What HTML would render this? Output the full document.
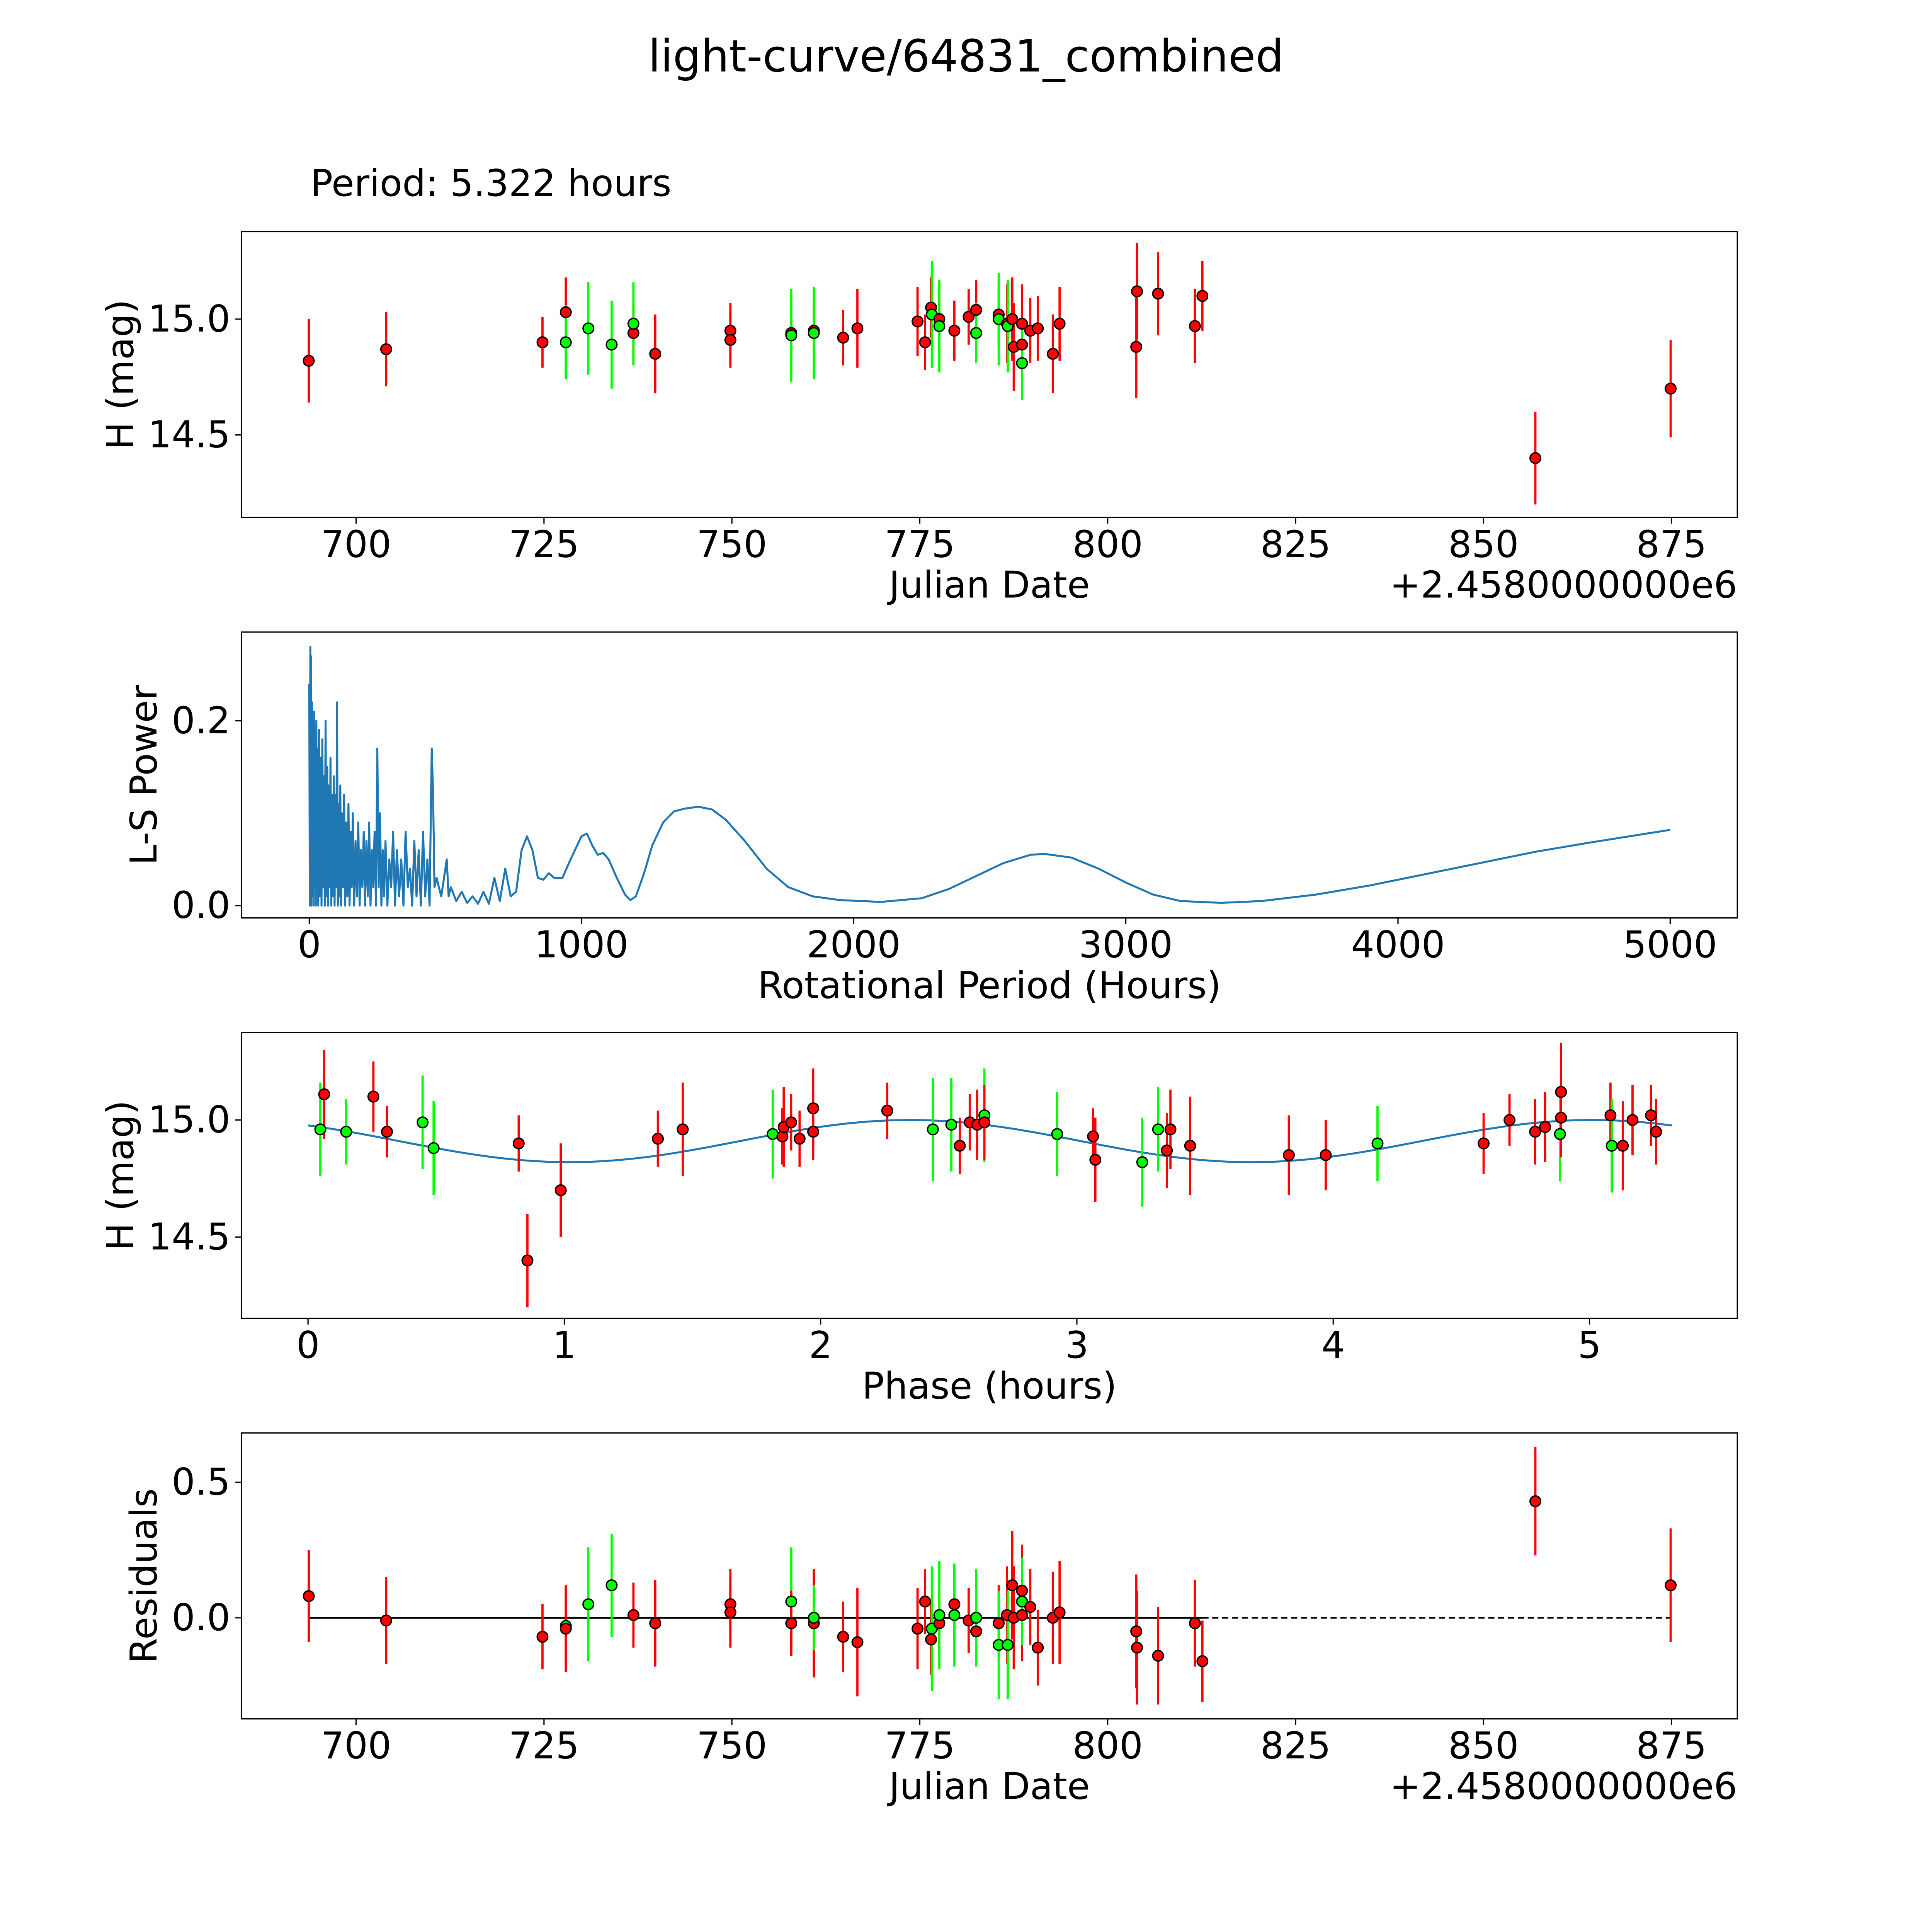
<!DOCTYPE html>
<html><head><meta charset="utf-8"><style>
html,body{margin:0;padding:0;background:#fff;overflow:hidden;width:100vw;height:100vh}
svg{display:block;width:100vw;height:100vh}
text{font-family:"DejaVu Sans","Liberation Sans",sans-serif;fill:#000}
</style></head><body>
<svg id="fig" viewBox="0 0 1568 1568" preserveAspectRatio="none" xmlns="http://www.w3.org/2000/svg">
<rect width="1568" height="1568" fill="#fff"/>
<text x="784" y="58" font-size="36" text-anchor="middle">light-curve/64831_combined</text>
<text x="252" y="159" font-size="30">Period: 5.322 hours</text>
<g id="p1"></g>
<g id="p2"></g>
<g id="p3"></g>
<g id="p4"></g>
</svg>
<script>
// ---- Panel 1: light curve (JD offset, H mag, error, filter) ----
const lcJD  = [693.7,704.0,724.8,727.9,727.9,730.9,734.0,736.9,736.9,739.8,749.8,749.8,757.9,757.9,760.9,760.9,764.8,766.7,774.7,775.7,776.5,776.6,777.6,777.6,779.6,781.5,782.5,782.5,785.5,785.5,786.6,786.7,787.3,787.5,788.6,788.6,788.6,789.7,790.7,792.7,793.6,803.8,803.9,806.7,811.6,812.6,856.9,874.9];
const lcMag = [14.82,14.87,14.90,15.03,14.90,14.96,14.89,14.94,14.98,14.85,14.95,14.91,14.94,14.93,14.95,14.94,14.92,14.96,14.99,14.90,15.05,15.02,15.00,14.97,14.95,15.01,15.04,14.94,15.02,15.00,14.98,14.97,15.00,14.88,14.98,14.89,14.81,14.95,14.96,14.85,14.98,14.88,15.12,15.11,14.97,15.10,14.40,14.70];
const lcErr = [0.18,0.16,0.11,0.15,0.16,0.20,0.19,0.12,0.18,0.17,0.12,0.12,0.12,0.20,0.12,0.20,0.12,0.17,0.15,0.12,0.13,0.23,0.12,0.20,0.13,0.12,0.13,0.13,0.14,0.20,0.17,0.20,0.18,0.19,0.17,0.17,0.16,0.14,0.14,0.17,0.16,0.22,0.21,0.18,0.16,0.15,0.20,0.21];
const lcFilt= ['r','r','r','r','g','g','g','r','g','r','r','r','r','g','r','g','r','r','r','r','r','g','r','g','r','r','r','g','r','g','r','g','r','r','r','r','g','r','r','r','r','r','r','r','r','r','r','r'];
// ---- Panel 2: periodogram ----
const lsPeriod = [0,2,4,5,6,8,10,12,14,16,18,20,22,24,26,28,30,33,36,39,42,45,48,51,54,57,60,63,66,69,72,75,78,81,84,87,90,93,96,99,102,105,108,111,114,117,120,124,128,132,136,140,144,148,152,156,160,165,170,175,180,185,190,195,200,205,210,215,220,225,230,235,240,245,250,255,260,265,270,275,280,287,294,301,308,315,322,330,338,346,354,362,370,378,386,394,402,410,418,426,434,442,450,455,460,468,476,485,495,505,512,520,540,560,580,600,620,640,660,680,700,720,740,760,780,800,820,840,860,880,900,930,960,1000,1020,1040,1060,1080,1100,1130,1160,1180,1200,1230,1260,1300,1340,1380,1430,1480,1530,1600,1680,1760,1850,1950,2100,2250,2350,2450,2550,2650,2700,2800,2900,3000,3100,3200,3350,3500,3700,3900,4100,4300,4500,4700,5000];
const lsPower  = [0.24,0.0,0.28,0.02,0.27,0.0,0.22,0.01,0.20,0.0,0.21,0.02,0.18,0.0,0.20,0.03,0.17,0.0,0.19,0.01,0.16,0.0,0.18,0.02,0.14,0.0,0.20,0.01,0.15,0.0,0.13,0.02,0.16,0.0,0.12,0.01,0.14,0.0,0.12,0.02,0.22,0.0,0.11,0.01,0.13,0.0,0.10,0.02,0.12,0.0,0.09,0.01,0.11,0.0,0.08,0.02,0.10,0.0,0.07,0.01,0.09,0.0,0.06,0.02,0.08,0.0,0.07,0.01,0.09,0.0,0.06,0.02,0.08,0.0,0.17,0.02,0.10,0.0,0.06,0.01,0.07,0.0,0.05,0.02,0.08,0.0,0.06,0.01,0.05,0.0,0.08,0.02,0.04,0.0,0.07,0.01,0.06,0.0,0.08,0.01,0.05,0.0,0.17,0.12,0.02,0.03,0.02,0.01,0.03,0.05,0.01,0.02,0.005,0.015,0.003,0.01,0.002,0.015,0.002,0.03,0.005,0.04,0.01,0.015,0.06,0.075,0.06,0.03,0.028,0.035,0.03,0.03,0.05,0.075,0.078,0.065,0.055,0.057,0.05,0.03,0.012,0.006,0.01,0.035,0.065,0.09,0.102,0.105,0.107,0.104,0.093,0.07,0.04,0.02,0.01,0.006,0.004,0.008,0.018,0.032,0.046,0.055,0.056,0.052,0.04,0.025,0.012,0.005,0.003,0.005,0.012,0.022,0.034,0.046,0.058,0.068,0.082];
// ---- Panel 3: phase-folded ----
const phPhase = [0.063,0.048,0.149,0.255,0.308,0.447,0.490,0.822,0.856,0.986,1.365,1.462,1.813,1.851,1.856,1.885,1.918,1.971,1.971,2.260,2.438,2.510,2.543,2.582,2.611,2.639,2.639,2.923,3.063,3.072,3.255,3.317,3.351,3.365,3.442,3.827,3.971,4.173,4.587,4.688,4.788,4.827,4.885,4.889,4.889,5.082,5.087,5.130,5.168,5.240,5.260];
const phMag   = [15.11,14.96,14.95,15.10,14.95,14.99,14.88,14.90,14.40,14.70,14.92,14.96,14.94,14.93,14.97,14.99,14.92,14.95,15.05,15.04,14.96,14.98,14.89,14.99,14.98,15.02,14.99,14.94,14.93,14.83,14.82,14.96,14.87,14.96,14.89,14.85,14.85,14.90,14.90,15.00,14.95,14.97,14.94,15.01,15.12,15.02,14.89,14.89,15.00,15.02,14.95];
const phErr   = [0.19,0.20,0.14,0.15,0.11,0.20,0.20,0.12,0.20,0.20,0.12,0.20,0.19,0.12,0.17,0.12,0.12,0.12,0.17,0.12,0.22,0.20,0.12,0.12,0.15,0.20,0.16,0.18,0.12,0.18,0.19,0.18,0.16,0.17,0.21,0.17,0.15,0.16,0.13,0.11,0.14,0.15,0.20,0.17,0.21,0.14,0.20,0.19,0.15,0.13,0.14];
const phFilt  = ['r','g','g','r','r','g','g','r','r','r','r','r','g','r','r','r','r','r','r','r','g','g','r','r','r','g','r','g','r','r','g','g','r','r','r','r','r','g','r','r','r','r','g','r','r','r','g','r','r','r','r'];
const fitMean = 14.91, fitAmp = 0.09, fitPeak = 2.35, fitPer = 2.66, fitEnd = 5.322;
// ---- Panel 4: residuals ----
const rsJD  = [693.7,704.0,724.8,727.9,727.9,730.9,734.0,736.9,739.8,749.8,749.8,757.9,757.9,760.9,760.9,764.8,766.7,774.7,775.7,776.5,776.6,777.6,777.6,779.6,779.6,781.5,782.5,782.5,785.5,785.5,786.6,786.7,787.3,787.5,788.6,788.6,788.6,789.7,790.7,792.7,793.6,803.8,803.9,806.7,811.6,812.6,856.9,874.9];
const rsVal = [0.08,-0.01,-0.07,-0.03,-0.04,0.05,0.12,0.01,-0.02,0.05,0.02,0.06,-0.02,-0.02,0.0,-0.07,-0.09,-0.04,0.06,-0.08,-0.04,-0.02,0.01,0.05,0.01,-0.01,-0.05,0.0,-0.02,-0.10,0.01,-0.10,0.12,0.0,0.10,0.01,0.06,0.04,-0.11,0.0,0.02,-0.05,-0.11,-0.14,-0.02,-0.16,0.43,0.12];
const rsErr = [0.17,0.16,0.12,0.15,0.16,0.21,0.19,0.12,0.16,0.13,0.13,0.20,0.12,0.20,0.12,0.13,0.20,0.15,0.12,0.13,0.23,0.12,0.20,0.13,0.19,0.12,0.13,0.18,0.14,0.20,0.18,0.20,0.20,0.19,0.17,0.17,0.16,0.14,0.14,0.17,0.19,0.21,0.21,0.18,0.16,0.15,0.20,0.21];
const rsFilt= ['r','r','r','g','r','g','g','r','r','r','r','g','r','r','g','r','r','r','r','r','g','r','g','r','g','r','r','g','r','g','r','g','r','r','r','r','g','r','r','r','r','r','r','r','r','r','r','r'];
const rsSolidEnd = 812.6, rsDashEnd = 874.9;

const NS='http://www.w3.org/2000/svg';
function mk(parent,tag,attrs){const e=document.createElementNS(NS,tag);for(const k in attrs)e.setAttribute(k,attrs[k]);parent.appendChild(e);return e;}
const L=196,R=1410;
function frame(g,top,bot,xt,xf,yt,yf,xlabel,ylabel,offset){
  const fr=mk(g,'rect',{x:L,y:top,width:R-L,height:bot-top,fill:'none',stroke:'#000','stroke-width':1});
  
  
  xt.forEach(v=>{const x=xf(v);
    mk(g,'line',{x1:x,x2:x,y1:bot,y2:bot+5,stroke:'#000','stroke-width':1});
    const t=mk(g,'text',{x:x,y:bot+32,'font-size':30,'text-anchor':'middle'});t.textContent=v;
    
    });
  yt.forEach(v=>{const y=yf(v);
    mk(g,'line',{x1:L-5,x2:L,y1:y,y2:y,stroke:'#000','stroke-width':1});
    const t=mk(g,'text',{x:L-9,y:y+10,'font-size':30,'text-anchor':'end'});t.textContent=v.toFixed(1);
    
    });
  const xl=mk(g,'text',{x:803,y:bot+65,'font-size':30,'text-anchor':'middle'});xl.textContent=xlabel;
  
  
  const cy=(top+bot)/2;
  const yl=mk(g,'text',{x:0,y:0,'font-size':30,'text-anchor':'middle',transform:`translate(${ylabel.x},${cy}) rotate(-90)`});yl.textContent=ylabel.t;
  
  
  if(offset){const o=mk(g,'text',{x:R,y:bot+65,'font-size':30,'text-anchor':'end'});o.textContent=offset;
    
    }
}
function points(g,xs,ys,es,fs,xf,yf,ysc){
  const eg=mk(g,'g',{}),mg=mk(g,'g',{});
  for(let i=0;i<xs.length;i++){
    const c=fs[i]==='g'?'#00ff00':'#ff0000';
    const x=xf(xs[i]),y=yf(ys[i]),d=es[i]*ysc;
    const l=mk(eg,'line',{x1:x,x2:x,y1:y-d,y2:y+d,stroke:c,'stroke-width':1.8});
    
    
    const m=mk(mg,'circle',{cx:x,cy:y,r:4.3,fill:c,stroke:'#000','stroke-width':1.1});
    
    
  }
}
const jdx=d=>289+(d-700)*6.1;
// Panel 1
{const g=document.getElementById('p1');const top=188,bot=420;
 const yf=m=>259+(15-m)*188;
 frame(g,top,bot,[700,725,750,775,800,825,850,875],jdx,[15.0,14.5],yf,'Julian Date',{x:108,t:'H (mag)'},'+2.4580000000e6');
 points(g,lcJD,lcMag,lcErr,lcFilt,jdx,yf,188);}
// Panel 2
{const g=document.getElementById('p2');const top=513,bot=745;
 const xf=p=>251+p*0.2209, yf=v=>735-v*750;
 frame(g,top,bot,[0,1000,2000,3000,4000,5000],xf,[0.0,0.2],yf,'Rotational Period (Hours)',{x:127,t:'L-S Power'});
 let d='';lsPeriod.forEach((p,i)=>{d+=(i?'L':'M')+xf(p).toFixed(2)+','+yf(lsPower[i]).toFixed(2);});
 const pl=mk(g,'path',{d:d,fill:'none',stroke:'#1f77b4','stroke-width':1.6,'stroke-linejoin':'round'});
 
 }
// Panel 3
{const g=document.getElementById('p3');const top=838,bot=1070;
 const xf=p=>250+p*208, yf=m=>909+(15-m)*190;
 frame(g,top,bot,[0,1,2,3,4,5],xf,[15.0,14.5],yf,'Phase (hours)',{x:108,t:'H (mag)'});
 let d='';for(let i=0;i<=300;i++){const p=fitEnd*i/300;const m=fitMean+fitAmp*Math.cos(2*Math.PI*(p-fitPeak)/fitPer);d+=(i?'L':'M')+xf(p).toFixed(2)+','+yf(m).toFixed(2);}
 const fl=mk(g,'path',{d:d,fill:'none',stroke:'#1f77b4','stroke-width':1.6});
 
 
 points(g,phPhase,phMag,phErr,phFilt,xf,yf,190);}
// Panel 4
{const g=document.getElementById('p4');const top=1163,bot=1395;
 const yf=v=>1313-v*220;
 frame(g,top,bot,[700,725,750,775,800,825,850,875],jdx,[0.0,0.5],yf,'Julian Date',{x:127,t:'Residuals'},'+2.4580000000e6');
 const s=mk(g,'line',{x1:jdx(rsJD[0]),x2:jdx(rsSolidEnd),y1:yf(0),y2:yf(0),stroke:'#000','stroke-width':1.5});
 
 
 const dl=mk(g,'line',{x1:jdx(rsSolidEnd),x2:jdx(rsDashEnd),y1:yf(0),y2:yf(0),stroke:'#000','stroke-width':1.3,'stroke-dasharray':'5,3'});
 
 
 points(g,rsJD,rsVal,rsErr,rsFilt,jdx,yf,220);}
</script>
</body></html>
